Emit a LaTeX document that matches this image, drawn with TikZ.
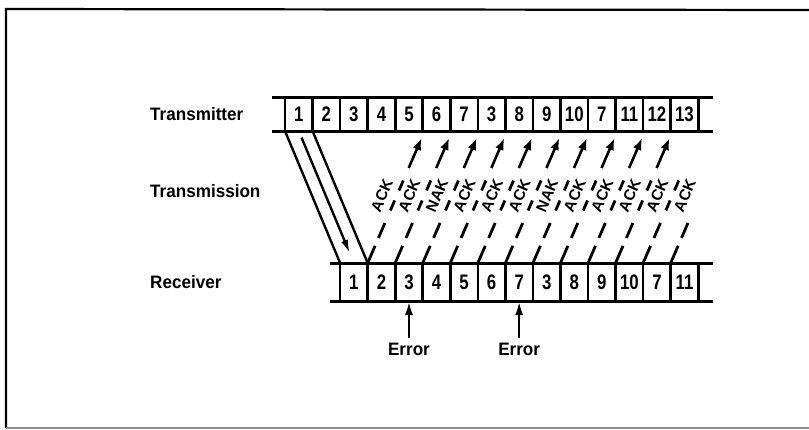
\documentclass[tikz,border=0pt]{standalone}
\usepackage{fontspec}
\newfontfamily\labfont[FakeStretch=0.95]{Liberation Sans}
\newfontfamily\digfont[FakeStretch=0.8]{Liberation Sans}
\newfontfamily\ackfont{Liberation Sans}
\usetikzlibrary{arrows.meta,calc}
\begin{document}
\begin{tikzpicture}[x=1pt,y=-1pt,
  band/.style={line width=3pt},
  cellbox/.style={draw, line width=2.6pt, minimum width=27.55pt, inner sep=0pt, outer sep=0pt,
    font=\digfont\bfseries\fontsize{21}{21}\selectfont},
  sidelab/.style={anchor=west, inner sep=0pt, font=\labfont\bfseries\fontsize{18}{18}\selectfont},
  errlab/.style={anchor=north, inner sep=0pt, outer sep=0pt, font=\labfont\bfseries\fontsize{18}{18}\selectfont},
  acklab/.style={rotate=66.6, inner sep=0pt, font=\ackfont\bfseries\fontsize{15.5}{15.5}\selectfont},
  ackdash/.style={line width=2.8pt, dash pattern=on 18.7pt off 8.6pt on 16.3pt off 13.6pt on 10.9pt off 10.9pt on 10.9pt off 60pt},
  ackarrow/.style={line width=2.6pt, -{Latex[length=12pt,width=9pt]}},
  wedge/.style={line width=2.4pt},
  errarrow/.style={line width=2.6pt, -{Latex[length=14pt,width=8pt]}},
  frameline/.style={line width=2.2pt}
]
\useasboundingbox (0,0) rectangle (809,429);
% frame
\draw[frameline] (6,428) -- (6,9) -- (809,10);
\draw[line width=1.5pt, black!45] (6,428) -- (809,428);

% side labels
\node[sidelab] (ltx) at (150,114) {Transmitter};
\node[sidelab] (ltr) at (150,191) {Transmission};
\node[sidelab] (lrx) at (150,282) {Receiver};

% bands
\draw[band] (272,97) -- (713,97);
\draw[band] (272,131) -- (713,131);
\draw[band] (330,263) -- (713,263);
\draw[band] (330,301) -- (713,301);

% transmitter cells
\foreach \lab [count=\i from 0] in {1,2,3,4,5,6,7,3,8,9,10,7,11,12,13}
  \node[cellbox, minimum height=34pt] (t\i) at ({285+27.55*(\i+0.5)},114) {\lab};
% receiver cells
\foreach \lab [count=\i from 0] in {1,2,3,4,5,6,7,3,8,9,10,7,11}
  \node[cellbox, minimum height=38pt] (r\i) at ({285+27.55*(\i+2.5)},282) {\lab};

% transmission of frame 1
\draw[wedge] (t0.south west) -- (r0.north west);
\draw[wedge] (t0.south east) -- (r0.north east);
\draw[wedge, -{Latex[length=14pt,width=7pt]}] ($(t0.south)!0.05!(r0.north)$) -- ($(t0.south)!0.93!(r0.north)$);

% acknowledgements
\foreach \k/\txt in {0/ACK,1/ACK,2/NAK,3/ACK,4/ACK,5/ACK,6/NAK,7/ACK,8/ACK,9/ACK,10/ACK,11/ACK}{
  \coordinate (s\k) at (r\k.north east);
  \coordinate (e\k) at ($(s\k)+(54,-125)$);
  \node[acklab] (l\k) at ($(s\k)!0.54!(e\k)+(-15,0)$) {\txt};
}
\foreach \k in {0,...,9}{
  \draw[ackdash] (s\k) -- ($(s\k)!0.66!(e\k)$);
  \draw[ackarrow] ($(s\k)!0.76!(e\k)$) -- (e\k);
}
\draw[ackdash] (s10) -- ($(s10)!0.66!(e10)$);
\draw[ackdash] (s11) -- ($(s11)!0.32!(e11)$);

% errors
\node[errlab] (err1) at (r2.south |- 0,343) {Error};
\node[errlab] (err2) at (r6.south |- 0,343) {Error};
\draw[errarrow] ($(err1.north)+(0,-5)$) -- (r2.south);
\draw[errarrow] ($(err2.north)+(0,-5)$) -- (r6.south);
\end{tikzpicture}
\end{document}
